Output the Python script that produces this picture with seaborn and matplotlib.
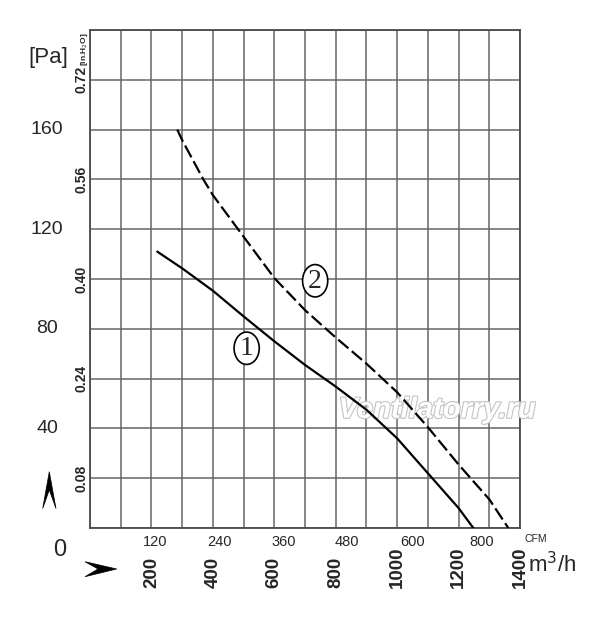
import numpy as np
import pandas as pd
import seaborn as sns
import matplotlib
matplotlib.use('Agg')
import matplotlib.pyplot as plt
from matplotlib.patches import Ellipse, Polygon
import matplotlib.patheffects as pe
import matplotlib.transforms as mtransforms

# curve 1 (solid) - flow m3/h vs static pressure Pa
flow_1 = [219, 300, 400, 500, 600, 700, 800, 900, 1000, 1100, 1200, 1248]
pres_1 = [111, 104.3, 95.3, 85, 75, 65.5, 56.8, 47.5, 36, 22, 8, 0]

# curve 2 (dashed)
flow_2 = [284, 300, 369, 400, 500, 600, 700, 800, 900, 1000, 1100, 1200, 1300, 1362]
pres_2 = [160, 155.8, 140, 133.7, 117, 100.4, 87.5, 76.5, 66, 54.5, 40.5, 25.5, 11.5, 0]

pa_ticks = [40, 80, 120, 160]
inh2o_vals = [20, 60, 100, 140, 180]
inh2o_labels = ['0.08', '0.24', '0.40', '0.56', '0.72']
m3h_ticks = [200, 400, 600, 800, 1000, 1200, 1400]
cfm_pos = [212, 423, 630, 835, 1050, 1275]
cfm_labels = ['120', '240', '360', '480', '600', '800']

sns.set_style('white')
plt.rcParams['font.family'] = ['Liberation Sans', 'DejaVu Sans']

df = pd.concat([
    pd.DataFrame({'flow': flow_1, 'pressure': pres_1, 'curve': '1'}),
    pd.DataFrame({'flow': flow_2, 'pressure': pres_2, 'curve': '2'}),
])

fig = plt.figure(figsize=(6, 6.19), dpi=100)
ax = fig.add_axes([0.15, 0.147, 0.7167, 0.8045])


def px(x, y):
    # image pixel -> figure fraction
    return (x / 600, 1 - y / 619)


sns.lineplot(data=df, x='flow', y='pressure', style='curve',
             dashes={'1': '', '2': (6, 2)}, color='black', lw=1.6,
             legend=False, ax=ax, zorder=4)

ax.set_xlim(0, 1400)
ax.set_ylim(0, 200)
ax.set_xticks(np.arange(0, 1401, 100), minor=True)
ax.set_yticks(np.arange(0, 201, 20), minor=True)
ax.set_yticks([])
ax.grid(which='minor', color='#666666', lw=1.1)
ax.set_xticks(cfm_pos)
ax.set_xticklabels(cfm_labels, fontsize=10.5)
ax.tick_params(axis='x', which='major', direction='in', length=4, width=1,
               color='#666666', pad=5)
ax.tick_params(which='minor', length=0)
ax.set_xlabel('')
ax.set_ylabel('')
for s in ax.spines.values():
    s.set_color('#4a4a4a')
    s.set_linewidth(1.3)

# left axis labels (Pa and in.H2O)
ytrans = mtransforms.blended_transform_factory(ax.transAxes, ax.transData)
for v in pa_ticks:
    ax.text(-0.1, v, str(v), transform=ytrans, ha='center', va='center',
            fontsize=14)
for v, lab in zip(inh2o_vals, inh2o_labels):
    ax.text(-0.02, v, lab, transform=ytrans, ha='center', va='center',
            fontsize=10, fontweight='bold', rotation=90)

# bottom m3/h labels
xtrans = mtransforms.blended_transform_factory(ax.transData, ax.transAxes)
for v in m3h_ticks:
    ax.text(v, -0.12, str(v), transform=xtrans, ha='center', va='bottom',
            fontsize=13.5, fontweight='bold', rotation=90)

fig.text(*px(60, 550), '0', ha='center', va='center', fontsize=17)
fig.text(*px(48, 57), '[Pa]', ha='center', va='center', fontsize=16)
fig.text(*px(84, 49), '[in.H$_2$O]', ha='center', va='center', fontsize=6,
         fontweight='bold', rotation=90)
fig.text(*px(536, 539), 'CFM', ha='center', va='center', fontsize=7.5)
fig.text(*px(552, 565), 'm$^3$/h', ha='center', va='center', fontsize=16)

# arrow marks next to the origin
up = [px(49.3, 471.7), px(56, 508.5), px(49.3, 490), px(42.7, 508.5)]
right = [px(116.7, 569), px(85, 561.7), px(98, 569), px(85, 576.7)]
for pts in (up, right):
    fig.patches.append(Polygon(pts, closed=True, transform=fig.transFigure,
                               facecolor='black', edgecolor='black', lw=0.5))

# circled curve numbers
for (cx, cy, num) in [(510, 72.2, '1'), (733, 99.3, '2')]:
    ax.add_patch(Ellipse((cx, cy), 82, 13, facecolor='white',
                         edgecolor='black', lw=1.2, zorder=5))
    ax.text(cx, cy - 0.3, num, ha='center', va='center', fontsize=20,
            family='Liberation Serif', zorder=6)

# watermark
ax.text(1130, 47.5, 'Ventilatorry.ru', ha='center', va='center', fontsize=21,
        fontstyle='italic', fontweight='bold', color='white', zorder=3,
        path_effects=[pe.withStroke(linewidth=1.6, foreground='#c4c4c4')])

fig.savefig('out.png', dpi=100)
